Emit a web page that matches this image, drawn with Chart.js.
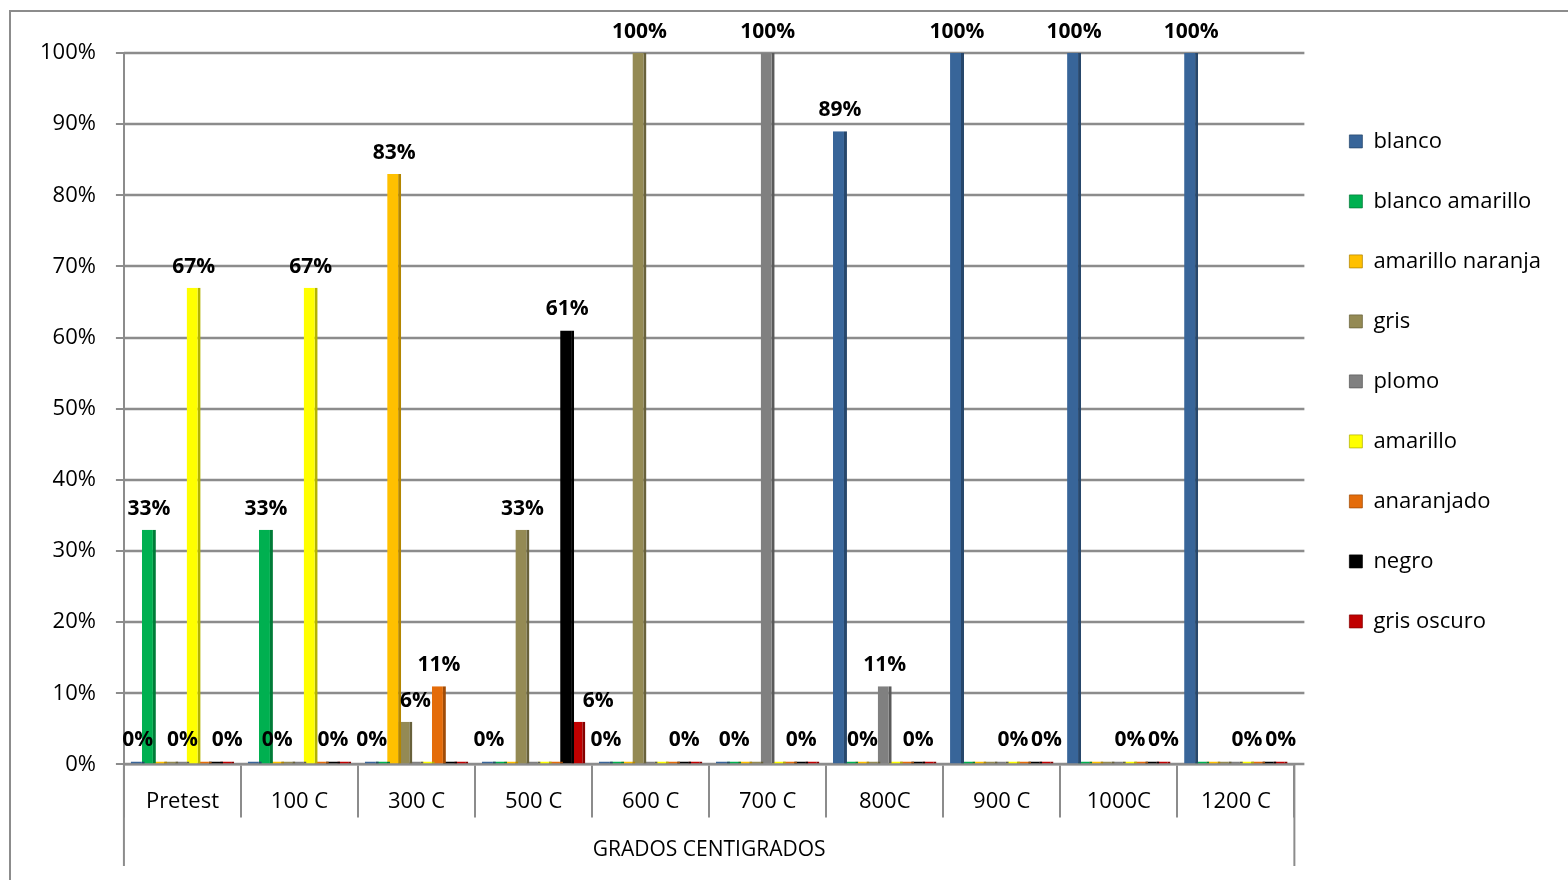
<!DOCTYPE html>
<html>
<head>
<meta charset="utf-8">
<script src="https://cdn.jsdelivr.net/npm/chart.js@4.4.1/dist/chart.umd.min.js"></script>
<style>
  body { margin: 0; background: #fff; overflow: hidden; }
  #frame { position: absolute; left: 9px; top: 10px; width: 1600px; height: 900px; border: 2px solid #8c8c8c; }
  #wrap { position: absolute; left: 0; top: 0; width: 1568px; height: 880px; }
</style>
</head>
<body>
<div id="frame"></div>
<div id="wrap"><canvas id="chart"></canvas></div>
<script>
// categorias (temperatura) y porcentaje de cada color
const categorias = ['Pretest', '100 C', '300 C', '500 C', '600 C', '700 C', '800C', '900 C', '1000C', '1200 C'];

const blanco          = [0, 0, 0, 0, 0, 0, 89, 100, 100, 100];
const blancoAmarillo  = [33, 33, 0, 0, 0, 0, 0, 0, 0, 0];
const amarilloNaranja = [0, 0, 83, 0, 0, 0, 0, 0, 0, 0];
const gris            = [0, 0, 6, 33, 100, 0, 0, 0, 0, 0];
const plomo           = [0, 0, 0, 0, 0, 100, 11, 0, 0, 0];
const amarillo        = [67, 67, 0, 0, 0, 0, 0, 0, 0, 0];
const anaranjado      = [0, 0, 11, 0, 0, 0, 0, 0, 0, 0];
const negro           = [0, 0, 0, 61, 0, 0, 0, 0, 0, 0];
const grisOscuro      = [0, 0, 0, 6, 0, 0, 0, 0, 0, 0];

// categorias donde tambien se rotula el 0%
const ceroBlanco          = ['Pretest', '300 C', '500 C', '600 C'];
const ceroBlancoAmarillo  = ['700 C'];
const ceroAmarilloNaranja = ['100 C', '800C'];
const ceroGris            = [];
const ceroPlomo           = ['Pretest'];
const ceroAmarillo        = ['900 C', '1000C', '1200 C'];
const ceroAnaranjado      = [];
const ceroNegro           = ['100 C', '600 C', '700 C', '800C'];
const ceroGrisOscuro      = ['Pretest', '900 C', '1000C', '1200 C'];

const ticksY = [0, 10, 20, 30, 40, 50, 60, 70, 80, 90, 100];

const series = [
    { label: 'blanco', data: blanco, color: '#386599', ceros: ceroBlanco },
    { label: 'blanco amarillo', data: blancoAmarillo, color: '#00B050', ceros: ceroBlancoAmarillo },
    { label: 'amarillo naranja', data: amarilloNaranja, color: '#FFC000', ceros: ceroAmarilloNaranja },
    { label: 'gris', data: gris, color: '#948A54', ceros: ceroGris },
    { label: 'plomo', data: plomo, color: '#808080', ceros: ceroPlomo },
    { label: 'amarillo', data: amarillo, color: '#FFFF00', ceros: ceroAmarillo },
    { label: 'anaranjado', data: anaranjado, color: '#E46C0A', ceros: ceroAnaranjado },
    { label: 'negro', data: negro, color: '#000000', ceros: ceroNegro },
    { label: 'gris oscuro', data: grisOscuro, color: '#C00000', ceros: ceroGrisOscuro }
];

function oscurecer(hex, f) {
    const n = parseInt(hex.slice(1), 16);
    const r = Math.round(((n >> 16) & 255) * f);
    const g = Math.round(((n >> 8) & 255) * f);
    const b = Math.round((n & 255) * f);
    return 'rgb(' + r + ',' + g + ',' + b + ')';
}

const gridColor = '#8c8c8c';

// lineas de la cuadricula, un poco mas largas que el area de barras
const cuadricula = {
    id: 'cuadricula',
    beforeDatasetsDraw(chart) {
        const { ctx, chartArea, scales } = chart;
        ctx.save();
        ctx.strokeStyle = gridColor;
        ctx.lineWidth = 2.5;
        scales.y.ticks.forEach(t => {
            const y = Math.round(scales.y.getPixelForValue(t.value));
            ctx.beginPath();
            ctx.moveTo(chartArea.left, y);
            ctx.lineTo(chartArea.right + 10, y);
            ctx.stroke();
        });
        ctx.restore();
    }
};

// etiquetas que se corren a la derecha para no quedar encima de otra barra
const corrimiento = { 'gris|300 C': 10, 'gris oscuro|500 C': 20 };

// etiquetas de porcentaje sobre cada barra
const etiquetas = {
    id: 'etiquetas',
    afterDatasetsDraw(chart) {
        const ctx = chart.ctx;
        ctx.save();
        ctx.font = 'bold 21px "Open Sans"';
        ctx.fillStyle = '#000';
        ctx.textAlign = 'center';
        ctx.textBaseline = 'middle';
        series.forEach((s, i) => {
            chart.getDatasetMeta(i).data.forEach((bar, j) => {
                const v = s.data[j];
                if (v > 0 || s.ceros.includes(categorias[j])) {
                    const dx = corrimiento[s.label + '|' + categorias[j]] || 0;
                    ctx.fillText(v + '%', bar.x + dx, bar.y - 21);
                }
            });
        });
        ctx.restore();
    }
};

// lineas exteriores del eje de categorias hasta el titulo
const bordesEje = {
    id: 'bordesEje',
    afterDraw(chart) {
        const { ctx, chartArea, scales } = chart;
        ctx.save();
        ctx.strokeStyle = gridColor;
        ctx.lineWidth = 2;
        [chartArea.left, chartArea.right].forEach(x => {
            ctx.beginPath();
            ctx.moveTo(x, chartArea.bottom);
            ctx.lineTo(x, scales.x.bottom);
            ctx.stroke();
        });
        ctx.restore();
    }
};

Chart.defaults.font.family = '"Open Sans"';
Chart.defaults.color = '#000';

const ctx = document.getElementById('chart').getContext('2d');
const chart = new Chart(ctx, {
    type: 'bar',
    data: {
        labels: categorias,
        datasets: series.map(s => ({
            label: s.label,
            data: s.data,
            backgroundColor: s.color,
            borderColor: oscurecer(s.color, 0.7),
            borderWidth: { top: 0, right: 3, bottom: 0, left: 0 },
            borderSkipped: false,
            minBarLength: 3,
            categoryPercentage: 0.86,
            barPercentage: 1.25
        }))
    },
    options: {
        responsive: true,
        maintainAspectRatio: false,
        animation: false,
        layout: { padding: { left: 20, right: 17, top: 53, bottom: 14 } },
        plugins: {
            tooltip: { enabled: false },
            legend: {
                position: 'right',
                align: 'start',
                title: { display: true, text: '', padding: { top: 0, bottom: 25 } },
                labels: {
                    font: { size: 22 },
                    boxWidth: 13,
                    boxHeight: 13,
                    padding: 38
                }
            }
        },
        scales: {
            x: {
                grid: {
                    display: true,
                    drawOnChartArea: false,
                    drawTicks: true,
                    tickLength: 53,
                    offset: true,
                    color: gridColor,
                    lineWidth: 2
                },
                border: { display: true, color: gridColor, width: 2.5 },
                ticks: { font: { size: 22 }, padding: -29, maxRotation: 0 },
                title: {
                    display: true,
                    text: 'GRADOS CENTIGRADOS',
                    font: { size: 21 },
                    padding: { top: 52, bottom: 3 }
                }
            },
            y: {
                min: 0,
                max: 100,
                afterBuildTicks(scale) {
                    scale.ticks = ticksY.map(v => ({ value: v }));
                },
                grid: {
                    drawOnChartArea: false,
                    drawTicks: true,
                    tickLength: 8,
                    color: gridColor,
                    lineWidth: 2
                },
                border: { display: true, color: gridColor, width: 2 },
                ticks: {
                    font: { size: 22 },
                    padding: 20,
                    callback: v => v + '%'
                }
            },
            margen: {
                type: 'linear',
                position: 'right',
                display: true,
                grid: { display: false },
                border: { display: false },
                ticks: { display: false },
                afterFit(scale) { scale.width = 17; }
            }
        }
    },
    plugins: [cuadricula, etiquetas, bordesEje]
});
</script>
</body>
</html>
